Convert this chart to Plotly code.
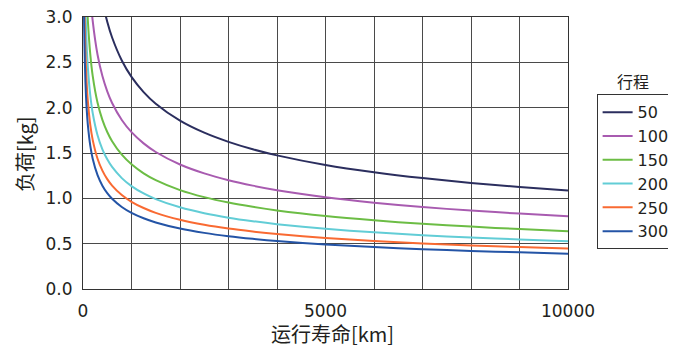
import plotly.graph_objects as go

# Running life [km]
life_km = [5, 10, 20, 30, 50, 75, 100, 150, 200, 300, 400, 500, 600, 800, 1000,
           1250, 1500, 2000, 2500, 3000, 3500, 4000, 5000, 6000, 7000, 8000, 9000, 10000]

strokes = ["50", "100", "150", "200", "250", "300"]

load_50 = [13.684, 10.861, 8.621, 7.531, 6.352, 5.549, 5.041, 4.404, 4.001, 3.495, 3.176, 2.948, 2.774, 2.521,
           2.340, 2.172, 2.044, 1.857, 1.724, 1.623, 1.541, 1.474, 1.368, 1.288, 1.223, 1.170, 1.125, 1.086]
load_100 = [10.117, 8.030, 6.373, 5.568, 4.696, 4.102, 3.727, 3.256, 2.958, 2.584, 2.348, 2.180, 2.051, 1.864,
            1.730, 1.606, 1.511, 1.373, 1.275, 1.200, 1.140, 1.090, 1.012, 0.952, 0.904, 0.865, 0.832, 0.803]
load_150 = [8.041, 6.382, 5.066, 4.425, 3.732, 3.261, 2.962, 2.588, 2.351, 2.054, 1.866, 1.732, 1.630, 1.481,
            1.375, 1.276, 1.201, 1.091, 1.013, 0.953, 0.906, 0.866, 0.804, 0.757, 0.719, 0.688, 0.661, 0.638]
load_200 = [6.637, 5.268, 4.181, 3.653, 3.081, 2.691, 2.445, 2.136, 1.941, 1.695, 1.540, 1.430, 1.346, 1.223,
            1.135, 1.054, 0.992, 0.901, 0.836, 0.787, 0.748, 0.715, 0.664, 0.625, 0.593, 0.568, 0.546, 0.527]
load_250 = [5.626, 4.465, 3.544, 3.096, 2.611, 2.281, 2.073, 1.811, 1.645, 1.437, 1.306, 1.212, 1.141, 1.036,
            0.962, 0.893, 0.840, 0.764, 0.709, 0.667, 0.634, 0.606, 0.563, 0.529, 0.503, 0.481, 0.462, 0.447]
load_300 = [4.912, 3.899, 3.095, 2.703, 2.280, 1.992, 1.810, 1.581, 1.436, 1.255, 1.140, 1.058, 0.996, 0.905,
            0.840, 0.780, 0.734, 0.667, 0.619, 0.582, 0.553, 0.529, 0.491, 0.462, 0.439, 0.420, 0.404, 0.390]

loads = [load_50, load_100, load_150, load_200, load_250, load_300]
colors = ["#2b2e5e", "#a85bb0", "#6cbd45", "#62cdd6", "#f96a32", "#2454a6"]

fig = go.Figure()
for name, ys, c in zip(strokes, loads, colors):
    fig.add_trace(go.Scatter(x=life_km, y=ys, name=name, mode="lines",
                             line=dict(color=c, width=2, shape="spline", smoothing=0.8)))

tick_font = dict(family="DejaVu Sans", size=17, color="#231f20")
cjk = "Noto Sans CJK SC"
title_font = dict(family=cjk, size=20, color="#231f20")
grid_c = "#4a4a4a"

fig.update_layout(
    width=668, height=341,
    margin=dict(l=75, r=108, t=9, b=60, autoexpand=False),
    paper_bgcolor="white", plot_bgcolor="white",
    showlegend=True,
    legend=dict(x=1.059, y=0.716, xanchor="left", yanchor="top",
                bordercolor="#333333", borderwidth=1,
                font=dict(family="DejaVu Sans", size=16, color="#231f20"),
                tracegroupgap=0),
    annotations=[
        dict(text="行程", x=1.135, y=0.763, xref="paper", yref="paper",
             xanchor="center", yanchor="middle", showarrow=False,
             font=dict(family=cjk, size=16, color="#231f20")),
        dict(text="运行寿命[km]", x=0.514, y=-0.164, xref="paper", yref="paper",
             xanchor="center", yanchor="middle", showarrow=False, font=title_font),
        dict(text="负荷[kg]", x=-0.1216, y=0.496, xref="paper", yref="paper",
             xanchor="center", yanchor="middle", showarrow=False, textangle=-90,
             font=title_font),
    ],
)

fig.update_xaxes(
    range=[0, 10000], tickvals=[0, 5000, 10000], ticktext=["0", "5000", "10000"],
    showgrid=True, gridcolor=grid_c, gridwidth=1,
    minor=dict(dtick=1000, showgrid=True, gridcolor=grid_c, gridwidth=1),
    showline=True, linecolor="#333333", linewidth=1, mirror=True,
    zeroline=False, ticks="", tickfont=tick_font, ticklabelstandoff=7,
    ticklabeloverflow="allow", automargin=False,
)
fig.update_yaxes(
    range=[0, 3], tickvals=[0, 0.5, 1.0, 1.5, 2.0, 2.5, 3.0],
    ticktext=["0.0", "0.5", "1.0", "1.5", "2.0", "2.5", "3.0"],
    showgrid=True, gridcolor=grid_c, gridwidth=1,
    showline=True, linecolor="#333333", linewidth=1, mirror=True,
    zeroline=False, ticks="", tickfont=tick_font, ticklabelstandoff=6,
    ticklabeloverflow="allow", automargin=False,
)

fig.write_html("out.html")
